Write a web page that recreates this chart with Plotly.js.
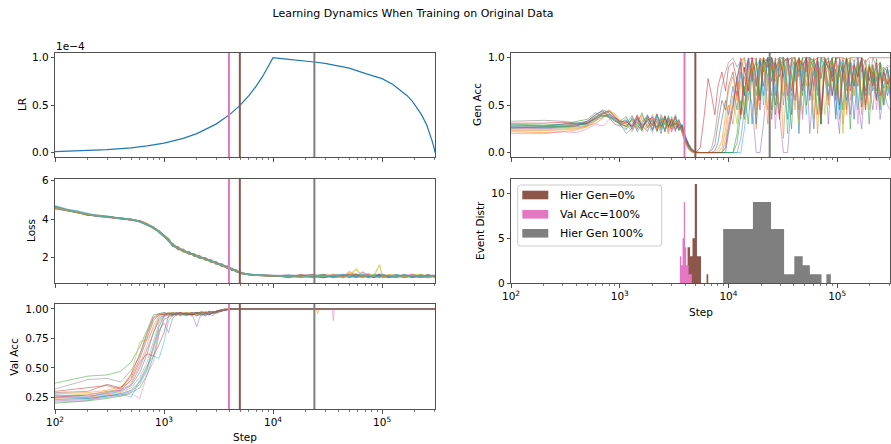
<!DOCTYPE html>
<html>
<head>
<meta charset="utf-8">
<script src="https://cdn.plot.ly/plotly-3.0.1.min.js"></script>
<style>html,body{margin:0;padding:0;background:#fff;}</style>
</head>
<body>
<div id="chart" style="width:891px;height:444px;"></div>
<script>
// ---------------- DATA ----------------
// Learning rate, in units of 1e-4
const lrSteps = [100,150,200,300,500,700,1000,1500,2000,3000,4000,5000,6000,7000,8000,9000,10000,12000,15000,20000,23800,30000,36000,50000,72000,100000,125000,146000,170000,190000,208000,230000,257000,275000,290000,300000,306000];
const lrE4 = [0.01,0.015,0.02,0.03,0.05,0.07,0.10,0.15,0.20,0.30,0.40,0.50,0.60,0.70,0.80,0.90,1.00,0.99,0.98,0.965,0.955,0.94,0.92,0.89,0.83,0.78,0.72,0.66,0.60,0.54,0.47,0.40,0.29,0.20,0.11,0.05,0.0];

// Loss runs
const lossSteps = [100,130,160,200,250,300,400,500,600,700,800,900,1000,1100,1200,1350,1500,1700,1900,2100,2400,2700,3000,3400,3800,4200,4600,5000,5600,6300,7500,9000,11000,14000,18000,23000,29000,36000,44000,50000,58000,66000,75000,84000,95000,101000,115000,135000,160000,190000,225000,265000,306000];
const loss0 = [4.62,4.44,4.35,4.24,4.15,4.12,4.02,3.98,3.86,3.70,3.55,3.30,3.10, 2.88,2.60,2.45,2.36,2.20,2.13,2.00,1.92,1.78,1.72,1.56,1.49,1.36,1.30,1.18, 1.13,1.08,1.06,1.03,1.04, 1.04,0.97,1.08,0.95,1.06,1.10,0.96,1.03,1.09,0.94,1.05,1.11,0.97,1.02,1.08,0.95,1.06,1.00,0.96,1.04];
const loss1 = [4.55,4.47,4.38,4.20,4.18,4.09,4.05,3.95,3.90,3.75,3.50,3.36,3.15, 2.98,2.60,2.55,2.28,2.30,2.05,2.10,1.84,1.88,1.64,1.66,1.42,1.44,1.24,1.22, 1.12,1.10,1.05,1.05,1.02, 0.98,1.07,0.95,1.09,1.01,0.96,1.25,1.04,0.97,1.10,0.99,1.06,0.95,1.08,1.02,0.97,1.09,1.01,0.95,1.05];
const loss2 = [4.58,4.42,4.33,4.25,4.13,4.14,4.00,3.99,3.85,3.68,3.58,3.31,3.08, 2.92,2.62,2.50,2.33,2.19,2.14,1.99,1.93,1.77,1.73,1.55,1.48,1.35,1.29,1.17, 1.14,1.07,1.07,1.03,1.02, 1.06,0.95,1.02,1.10,0.97,1.04,0.94,1.08,1.01,0.96,1.11,0.98,1.05,0.94,1.07,1.03,0.96,1.10,0.99,1.02];
const loss3 = [4.65,4.48,4.37,4.21,4.17,4.10,4.04,3.96,3.89,3.74,3.52,3.37,3.14, 2.84,2.72,2.40,2.42,2.16,2.18,1.96,1.97,1.74,1.77,1.52,1.54,1.31,1.34,1.15, 1.12,1.09,1.05,1.04,1.03, 0.96,1.09,1.00,0.95,1.07,1.02,1.11,0.97,1.04,1.08,0.95,1.03,1.10,0.98,0.95,1.06,1.02,0.96,1.08,0.97];
const loss4 = [4.52,4.43,4.39,4.23,4.14,4.13,4.03,3.94,3.87,3.71,3.56,3.33,3.13, 2.91,2.63,2.47,2.32,2.21,2.12,2.01,1.91,1.79,1.71,1.57,1.47,1.37,1.28,1.19, 1.14,1.09,1.06,1.04,1.02, 1.08,1.00,0.96,1.05,0.94,1.09,1.02,0.97,1.22,1.04,0.96,1.10,1.01,0.95,1.07,0.99,1.05,0.94,1.03,1.06];
const loss5 = [4.60,4.46,4.34,4.22,4.16,4.11,4.01,3.97,3.88,3.73,3.53,3.35,3.11, 2.95,2.58,2.52,2.30,2.27,2.06,2.08,1.86,1.85,1.66,1.63,1.44,1.41,1.25,1.21, 1.13,1.08,1.06,1.04,1.03, 0.99,1.04,1.10,0.96,1.02,0.95,1.07,1.12,0.98,1.03,0.95,1.08,0.97,1.04,1.00,1.10,0.95,1.06,1.02,0.97];
const loss6 = [4.57,4.45,4.36,4.26,4.15,4.08,4.06,3.98,3.86,3.72,3.55,3.32,3.12, 2.87,2.64,2.49,2.35,2.24,2.11,2.04,1.92,1.82,1.72,1.57,1.49,1.37,1.29,1.19, 1.13,1.09,1.07,1.05,1.02, 1.03,0.96,1.06,1.01,1.11,0.97,1.04,0.95,1.08,1.15,1.00,0.96,1.09,1.03,0.97,1.05,1.11,0.98,0.95,1.04];
const loss7 = [4.63,4.44,4.37,4.21,4.19,4.12,4.02,3.96,3.90,3.70,3.54,3.36,3.14, 2.86,2.70,2.42,2.39,2.17,2.15,1.97,1.94,1.76,1.74,1.54,1.51,1.33,1.31,1.17, 1.12,1.10,1.06,1.03,1.04, 0.95,1.05,0.99,1.08,0.96,1.03,1.10,1.00,0.95,1.06,1.02,0.97,1.10,0.98,1.04,0.95,1.07,1.01,1.09,0.98];
const loss8 = [4.59,4.46,4.35,4.23,4.17,4.10,4.04,3.97,3.87,3.73,3.53,3.34,3.11, 2.91,2.63,2.47,2.34,2.21,2.11,2.02,1.90,1.80,1.70,1.58,1.48,1.36,1.28,1.19, 1.13,1.08,1.06,1.04,1.03, 1.02,0.97,1.05,1.00,1.08,0.95,1.03,1.39,0.98,1.07,1.00,1.62,0.96,1.09,1.02,0.97,1.05,1.10,0.99,1.03];
const loss9 = [4.70,4.50,4.42,4.30,4.16,4.12,4.03,3.98,3.87,3.72,3.55,3.34,3.12, 2.93,2.61,2.50,2.31,2.26,2.08,2.06,1.87,1.84,1.67,1.62,1.45,1.40,1.26,1.20, 1.13,1.09,1.06,1.04,1.03, 1.00,1.06,0.95,1.04,0.98,1.08,1.01,0.96,1.10,0.99,1.04,0.95,1.07,1.02,0.97,1.09,0.96,1.04,1.00,1.06];

// Validation accuracy runs (percent)
const valSteps = [100,200,300,400,500,600,700,800,900,1000,1100,1200,1300,1400,1600,1800,2000,2200,2400,2600,2800,3000,3300,3600,4000,4500,5000,10000,25000,25700,26500,35000,35700,36500,100000,306000];
const val0  = [27,26,28,30,35,46,62,80,90,95, 96,95,97,96, 95,96,97,95,97,96,98,97, 98,99,99,100,100, 100, 100,100,100, 100,100,100, 100,100];
const val1  = [24,25,27,29,33,42,55,72,88,94, 95,96,94,97, 96,95,96,97,94,97,97,98, 98,99,100,100,100, 100, 100,96,100, 100,100,100, 100,100];
const val2  = [37,43,44,47,55,68,82,95,96,97, 96,97,96,95, 97,96,97,96,97,98,97,98, 99,100,100,100,100, 100, 100,100,100, 100,100,100, 100,100];
const val3  = [25,27,30,31,40,55,62,60,70,80, 94,96,95,97, 95,96,97,96,95,98,97,98, 99,99,100,100,100, 100, 100,100,100, 100,100,100, 100,100];
const val4  = [22,23,25,27,30,36,48,65,82,88, 80,92,95,96, 94,96,85,97,96,95,97,98, 98,99,100,100,100, 100, 100,100,100, 100,100,100, 100,100];
const val5  = [29,30,36,33,42,58,75,90,95,96, 95,97,96,95, 97,95,96,97,96,98,97,96, 98,99,100,100,100, 100, 100,100,100, 100,100,100, 100,100];
const val6  = [21,22,27,26,28,24,45,55,78,93, 95,94,96,95, 96,97,94,96,97,96,97,98, 99,99,100,100,100, 100, 100,100,100, 100,90,100, 100,100];
const val7  = [32,40,41,38,48,60,78,92,95,97, 96,95,97,96, 95,97,96,95,98,96,94,98, 99,100,100,100,100, 100, 100,100,100, 100,100,100, 100,100];
const val8  = [26,28,29,33,45,72,74,83,93,96, 96,97,95,96, 97,96,95,97,96,97,98,97, 99,99,100,100,100, 100, 100,100,100, 100,100,100, 100,100];
const val9  = [25,24,26,28,25,40,52,60,58,72, 90,95,96,95, 96,94,97,96,95,97,96,98, 98,99,100,100,100, 100, 100,100,100, 100,100,100, 100,100];
const val10 = [23,24,26,28,31,38,50,68,85,94, 96,95,96,97, 95,96,94,97,96,95,97,98, 99,99,100,100,100, 100, 100,100,100, 100,100,100, 100,100];
const val11 = [28,29,31,34,38,52,70,86,94,96, 95,96,97,95, 96,97,95,96,97,96,98,97, 98,100,100,100,100, 100, 100,100,100, 100,100,100, 100,100];
const val12 = [20,22,24,26,29,33,44,60,80,91, 93,95,96,94, 96,95,97,96,94,97,96,97, 98,99,100,100,100, 100, 100,100,100, 100,100,100, 100,100];
const val13 = [30,33,35,32,44,62,80,93,96,95, 97,96,95,97, 96,95,96,98,97,95,97,98, 99,99,100,100,100, 100, 100,100,100, 100,100,100, 100,100];
const val14 = [26,25,29,31,36,50,66,79,92,95, 96,94,97,96, 95,97,96,94,96,97,98,97, 98,99,100,100,100, 100, 100,100,100, 100,100,100, 100,100];

// Hierarchical generalisation accuracy runs (percent)
const genSteps = [100,200,300,400,500,600,700,800,900,1000,
  1150,1300,1450,1600,1800,2000,2200,2400,2600,2800,3000,3250,3500,3750,4000,4300,4600,5000,
  5500,6000,6500,7000,7500,8000,8700,9400,10000,
  11000,12000,13000,14000,15200,16500,18000,19500,21000,23000,25000,27000,29500,32000,35000,38000,41000,44500,48000,52000,56000,61000,66000,71000,77000,83000,90000,97000,105000,113000,122000,132000,143000,155000,168000,182000,197000,213000,230000,248000,268000,290000,306000];
const gen0 = [27,27,28,29,30,36,40,38,35,30, 28,35,22,30,40,25,33,20,38,28,35,30,24,30,18,9,3,1, 0,0,0,0,2,10,35,55,40, 70,45,85,60,95,30,90,98,60,99,75,100,40,95,100,65,98,20,90,100,55,97,85,30,95,100,60,88,45,98,70,92,35,85,99,50,90,65,80,45,88,60,70];
const gen1 = [22,21,22,24,27,33,42,45,38,32, 25,30,36,22,28,40,31,26,35,20,30,38,28,22,14,6,2,0, 0,0,0,0,0,0,5,25,50, 30,65,40,80,55,90,25,85,97,45,100,80,99,15,92,60,100,85,40,96,70,100,20,88,95,50,99,75,92,30,85,98,60,90,40,95,70,85,55,92,65,80,88];
const gen2 = [30,29,30,33,35,42,38,40,36,33, 38,24,30,42,26,35,22,40,29,33,25,36,30,20,12,4,1,0, 0,0,0,0,0,0,0,0,0, 0,20,55,35,75,90,60,98,85,100,45,97,100,80,35,99,90,100,60,95,100,88,40,99,92,70,100,55,96,85,99,25,94,80,100,65,93,75,99,50,90,85,60];
const gen3 = [26,26,27,28,33,40,44,36,30,28, 33,27,38,24,36,29,41,27,31,37,22,33,26,28,15,7,2,0, 5,40,78,60,40,70,85,65,90, 95,75,100,85,98,100,70,100,95,100,100,88,100,100,96,100,100,80,100,100,100,97,100,100,100,90,100,100,100,100,98,100,100,100,100,95,100,100,100,100,100,100,100];
const gen4 = [25,25,26,27,29,34,37,41,37,31, 20,26,35,29,22,38,27,33,24,36,30,22,34,25,16,8,3,0, 0,0,0,0,0,0,0,0,0, 0,0,15,45,70,50,0,0,30,80,60,95,40,0,0,55,90,35,85,100,20,75,98,45,88,30,95,60,20,90,75,40,98,55,25,85,70,45,90,35,65,50,45];
const gen5 = [28,28,29,30,32,38,42,39,34,31, 31,39,25,33,37,28,36,24,38,26,33,29,35,23,14,5,1,0, 0,0,0,2,8,30,55,45,70, 85,60,95,40,98,75,100,55,90,100,35,95,80,100,60,98,100,45,93,85,100,70,96,30,99,88,60,100,80,94,45,97,85,70,99,60,92,80,55,95,75,88,70];
const gen6 = [20,20,22,21,25,30,28,35,37,34, 27,33,24,38,30,21,35,28,32,22,37,26,31,19,10,3,0,0, 0,0,0,0,0,0,0,10,30, 55,80,35,90,65,97,45,85,100,70,95,25,100,85,55,98,80,100,35,90,97,65,100,50,92,85,99,40,88,75,95,55,90,30,98,80,65,92,45,85,60,78,55];
const gen7 = [33,34,33,31,30,36,39,38,34,30, 36,28,33,25,39,31,27,37,22,34,28,40,27,24,16,9,4,1, 0,0,0,5,20,45,70,85,95, 100,90,97,100,75,100,98,60,100,95,100,85,100,50,98,100,90,100,70,99,100,95,60,100,97,100,80,99,100,90,65,100,96,100,85,98,75,100,90,95,85,92,90];
const gen8 = [24,24,25,26,28,35,41,43,40,33, 29,34,27,36,23,32,38,25,34,30,26,35,29,26,13,6,2,0, 0,0,0,0,0,0,0,15,40, 60,30,75,50,85,95,40,90,100,65,98,85,45,100,90,70,100,30,95,80,100,55,90,98,40,85,100,70,95,20,88,100,60,92,80,45,97,70,85,50,90,65,80];
const gen9 = [27,26,27,29,31,37,43,40,35,29, 24,37,31,27,35,23,39,30,25,36,32,24,33,27,17,7,3,0, 0,0,0,0,0,0,0,0,0, 0,0,0,25,60,85,70,95,50,100,90,60,98,100,20,95,75,100,85,40,99,90,65,100,80,55,96,85,35,90,100,70,88,45,95,80,60,90,75,85,50,70,62];
const gen10 = [29,28,30,31,33,39,45,42,36,32, 34,25,37,29,33,24,40,28,36,31,27,38,23,29,17,8,2,0, 0,0,0,0,0,0,0,0,20, 45,80,95,60,100,85,30,97,70,100,90,50,99,80,100,40,92,98,65,100,85,25,96,78,100,60,90,35,99,82,55,95,70,100,48,88,76,93,58,84,68,90,74];
const gen11 = [23,23,24,25,28,31,36,44,41,35, 30,22,34,40,27,31,25,36,33,24,38,27,32,21,11,5,1,0, 0,0,0,0,0,3,12,40,65, 80,55,90,100,70,96,50,88,100,30,94,75,100,60,97,85,45,100,90,70,98,35,92,80,100,55,95,65,88,100,40,90,75,97,60,85,45,92,70,80,55,75,82];
const gen12 = [26,27,28,28,31,35,39,37,33,31, 27,36,29,23,38,33,26,35,22,39,29,31,25,27,13,6,2,0, 0,0,0,0,0,0,0,0,0, 0,10,40,70,30,85,95,55,100,80,98,40,90,100,70,25,95,85,100,50,90,99,75,30,97,88,100,60,92,45,100,85,70,95,55,90,30,85,65,95,50,75,68];
const gen13 = [31,31,32,30,31,37,41,44,38,33, 32,28,40,26,34,37,23,31,39,27,35,24,30,26,15,7,3,0, 0,0,0,0,0,0,0,5,25, 50,75,40,90,65,100,80,45,98,90,100,70,35,95,100,80,55,99,92,100,60,85,100,40,90,97,75,100,50,85,98,65,92,80,100,45,90,70,95,60,85,72,78];

// Event steps per run (30 runs)
const evHierGen0 = [4207,4280,4350,4420,4470,4550,4620,4690,4740,4790,4840,4880,4910,4930,4950,4970,4990,5010,5030,5050,5070,5090,5110,5150,5220,5300,5380,5450,5520,6517];
const evValAcc100 = [3575,3610,3650,3700,3750,3790,3810,3830,3850,3870,3890,3900,3910,3925,3935,3950,3960,3970,3980,4000,4020,4050,4080,4110,4160,4210,4270,4350,4450,4605];
const evHierGen100 = [8940,10500,12000,13500,15000,16200,17200,18000,19000,20000,21000,21800,22400,22800,23200,24700,26500,28000,29500,30500,31800,36000,41500,44000,46500,50000,54000,60000,68000,87440];

const eventNames = ['Hier Gen=0%', 'Val Acc=100%', 'Hier Gen 100%'];
const xTickVals = [100, 1000, 10000, 100000];
const xTickText = ['10<sup>2</sup>', '10<sup>3</sup>', '10<sup>4</sup>', '10<sup>5</sup>'];

// ---------------- DRAWING ----------------
const W = 891, H = 444;
const X = p => p / W, Y = p => 1 - p / H;
const tab10 = ['#1f77b4','#ff7f0e','#2ca02c','#d62728','#9467bd','#8c564b','#e377c2','#7f7f7f','#bcbd22','#17becf'];
const evColors = ['#8c564b', '#e377c2', '#7f7f7f'];
const FONT = 'DejaVu Sans, sans-serif';
const AX = '#262626';

const lossRuns = [loss0,loss1,loss2,loss3,loss4,loss5,loss6,loss7,loss8,loss9];
const valRuns = [val0,val1,val2,val3,val4,val5,val6,val7,val8,val9,val10,val11,val12,val13,val14];
const genRuns = [gen0,gen1,gen2,gen3,gen4,gen5,gen6,gen7,gen8,gen9,gen10,gen11,gen12,gen13];
const events = [evHierGen0, evValAcc100, evHierGen100];

const stepMax = Math.max(...lrSteps);
const yRanges = {y: [-0.05, 1.05], y2: [0.64, 6.09], y3: [0.148, 1.042], y4: [-0.05, 1.05], y5: [0, 11.55]};

function median(a) {
  const s = [...a].sort((p, q) => p - q), n = s.length;
  return n % 2 ? s[(n - 1) / 2] : (s[n / 2 - 1] + s[n / 2]) / 2;
}
const medians = events.map(median);

const traces = [];
function vlines(xr, yr) {
  [1, 0, 2].forEach(i => traces.push({type:'scatter', mode:'lines', x:[medians[i], medians[i]], y: yRanges[yr],
    xaxis: xr, yaxis: yr, line:{color: evColors[i], width:2}, hoverinfo:'skip', showlegend:false, cliponaxis:true}));
}

traces.push({type:'scatter', mode:'lines', x: lrSteps, y: lrE4, xaxis:'x', yaxis:'y',
  line:{color:'#1f77b4', width:1.2}, hoverinfo:'skip', showlegend:false});
vlines('x', 'y');

lossRuns.forEach((r, i) => traces.push({type:'scatter', mode:'lines', x: lossSteps, y: r,
  xaxis:'x2', yaxis:'y2', line:{color: tab10[i % 10], width:1.5}, opacity:0.55, hoverinfo:'skip', showlegend:false}));
vlines('x2', 'y2');

valRuns.forEach((r, i) => traces.push({type:'scatter', mode:'lines', x: valSteps, y: r.map(v => v / 100),
  xaxis:'x3', yaxis:'y3', line:{color: tab10[i % 10], width:1}, opacity:0.5, hoverinfo:'skip', showlegend:false}));
vlines('x3', 'y3');

genRuns.forEach((r, i) => traces.push({type:'scatter', mode:'lines', x: genSteps, y: r.map(v => v / 100),
  xaxis:'x4', yaxis:'y4', line:{color: tab10[i % 10], width:1}, opacity:0.55, hoverinfo:'skip', showlegend:false}));
vlines('x4', 'y4');

// histograms: 10 equal-width bins between min and max (like matplotlib default)
function histogram(vals, nb) {
  const lo = Math.min(...vals), hi = Math.max(...vals), w = (hi - lo) / nb;
  const counts = new Array(nb).fill(0);
  vals.forEach(v => { let k = Math.floor((v - lo) / w); if (k >= nb) k = nb - 1; counts[k]++; });
  const xs = [lo], ys = [0];
  for (let k = 0; k < nb; k++) { xs.push(lo + k * w); ys.push(counts[k]); }
  xs.push(hi); ys.push(0);
  return {xs, ys};
}
events.forEach((ev, i) => {
  const h = histogram(ev, 10);
  traces.push({type:'scatter', mode:'lines', x: h.xs, y: h.ys, xaxis:'x5', yaxis:'y5',
    line:{shape:'hv', width:0, color: evColors[i]}, fill:'toself', fillcolor: evColors[i],
    name: eventNames[i], hoverinfo:'skip', showlegend:false});
});

// ---------------- LAYOUT ----------------
const minorVals = [];
for (let d = 100; d <= 100000; d *= 10) for (let m = 2; m <= 9; m++) if (m * d <= stepMax) minorVals.push(m * d);

const colL = [X(55), X(435)], colR = [X(511), X(890)];
const row1 = [Y(157.3), Y(53)], row2 = [Y(283.3), Y(179)], row3 = [Y(409.3), Y(304)];

function xAxis(domain, anchor, showLabels) {
  const ax = {type:'log', domain, anchor, range:[2, Math.log10(stepMax)], tickmode:'array', tickvals: xTickVals,
    showticklabels: showLabels, ticks:'outside', ticklen:3.5, tickwidth:0.8, tickcolor: AX,
    showline:true, linecolor: AX, linewidth:0.8, mirror:true, showgrid:false, zeroline:false,
    tickfont:{family: FONT, size:10.5, color:'#000'},
    minor:{tickmode:'array', tickvals: minorVals, ticks:'outside', ticklen:2, tickwidth:0.6, tickcolor: AX, showgrid:false},
    fixedrange:true};
  if (showLabels) ax.ticktext = xTickText;
  return ax;
}
function yAxis(domain, anchor, range, tv, tt) {
  return {domain, anchor, range, tickmode:'array', tickvals: tv, ticktext: tt, ticks:'outside', ticklen:3.5,
    tickwidth:0.8, tickcolor: AX, showline:true, linecolor: AX, linewidth:0.8, mirror:true, showgrid:false,
    zeroline:false, tickfont:{family: FONT, size:10.5, color:'#000'}, fixedrange:true};
}

const shapes = [];
// legend box (matplotlib style) for the event histogram panel
const lx0 = 517.7, lx1 = 661.7, ly0 = 185, ly1 = 246, rr = 3;
const legPath = `M${X(lx0+rr)},${Y(ly0)} L${X(lx1-rr)},${Y(ly0)} Q${X(lx1)},${Y(ly0)} ${X(lx1)},${Y(ly0+rr)} ` +
  `L${X(lx1)},${Y(ly1-rr)} Q${X(lx1)},${Y(ly1)} ${X(lx1-rr)},${Y(ly1)} L${X(lx0+rr)},${Y(ly1)} ` +
  `Q${X(lx0)},${Y(ly1)} ${X(lx0)},${Y(ly1-rr)} L${X(lx0)},${Y(ly0+rr)} Q${X(lx0)},${Y(ly0)} ${X(lx0+rr)},${Y(ly0)} Z`;
shapes.push({type:'path', xref:'paper', yref:'paper', path: legPath, fillcolor:'rgba(255,255,255,0.8)',
  line:{color:'#cccccc', width:1}, layer:'above'});
const legRows = [195, 214.3, 233.3];
const annotations = [];
eventNames.forEach((nm, i) => {
  shapes.push({type:'rect', xref:'paper', yref:'paper', x0: X(522.3), x1: X(548.3), y0: Y(legRows[i] + 4.3), y1: Y(legRows[i] - 4.3),
    fillcolor: evColors[i], line:{width:0}, layer:'above'});
  annotations.push({xref:'paper', yref:'paper', x: X(557.5), y: Y(legRows[i]), xanchor:'left', yanchor:'middle',
    text: nm, showarrow:false, font:{family: FONT, size:11, color:'#000'}});
});

function yTitle(text, xpx, ypx) {
  annotations.push({xref:'paper', yref:'paper', x: X(xpx), y: Y(ypx), xanchor:'center', yanchor:'middle',
    text, textangle:-90, showarrow:false, font:{family: FONT, size:10.5, color:'#000'}});
}
function xTitle(text, xpx, ypx) {
  annotations.push({xref:'paper', yref:'paper', x: X(xpx), y: Y(ypx), xanchor:'center', yanchor:'middle',
    text, showarrow:false, font:{family: FONT, size:10.5, color:'#000'}});
}
yTitle('LR', 22, 105);
yTitle('Loss', 31, 231);
yTitle('Val Acc', 13.7, 357);
yTitle('Gen Acc', 477, 105);
yTitle('Event Distr', 480, 231);
xTitle('Step', 245, 437);
xTitle('Step', 701, 311.5);
annotations.push({xref:'paper', yref:'paper', x: X(54), y: Y(46), xanchor:'left', yanchor:'middle',
  text:'1e\u22124', showarrow:false, font:{family: FONT, size:10.5, color:'#000'}});

const layout = {
  width: W, height: H, margin:{l:0, r:0, t:0, b:0, pad:0},
  paper_bgcolor:'#ffffff', plot_bgcolor:'#ffffff', showlegend:false,
  title:{text:'Learning Dynamics When Training on Original Data', x: X(413), y: Y(13), xref:'paper', yref:'paper',
    xanchor:'center', yanchor:'middle', font:{family: FONT, size:11, color:'#000'}},
  xaxis: xAxis(colL, 'y', false),
  yaxis: yAxis(row1, 'x', yRanges.y, [0, 0.5, 1], ['0.0', '0.5', '1.0']),
  xaxis2: xAxis(colL, 'y2', false),
  yaxis2: yAxis(row2, 'x2', yRanges.y2, [2, 4, 6], ['2', '4', '6']),
  xaxis3: xAxis(colL, 'y3', true),
  yaxis3: yAxis(row3, 'x3', yRanges.y3, [0.25, 0.5, 0.75, 1.0], ['0.25', '0.50', '0.75', '1.00']),
  xaxis4: xAxis(colR, 'y4', false),
  yaxis4: yAxis(row1, 'x4', yRanges.y4, [0, 0.5, 1], ['0.0', '0.5', '1.0']),
  xaxis5: xAxis(colR, 'y5', true),
  yaxis5: yAxis(row2, 'x5', yRanges.y5, [0, 5, 10], ['0', '5', '10']),
  shapes, annotations
};

Plotly.newPlot('chart', traces, layout, {staticPlot:true, displayModeBar:false});
</script>
</body>
</html>
